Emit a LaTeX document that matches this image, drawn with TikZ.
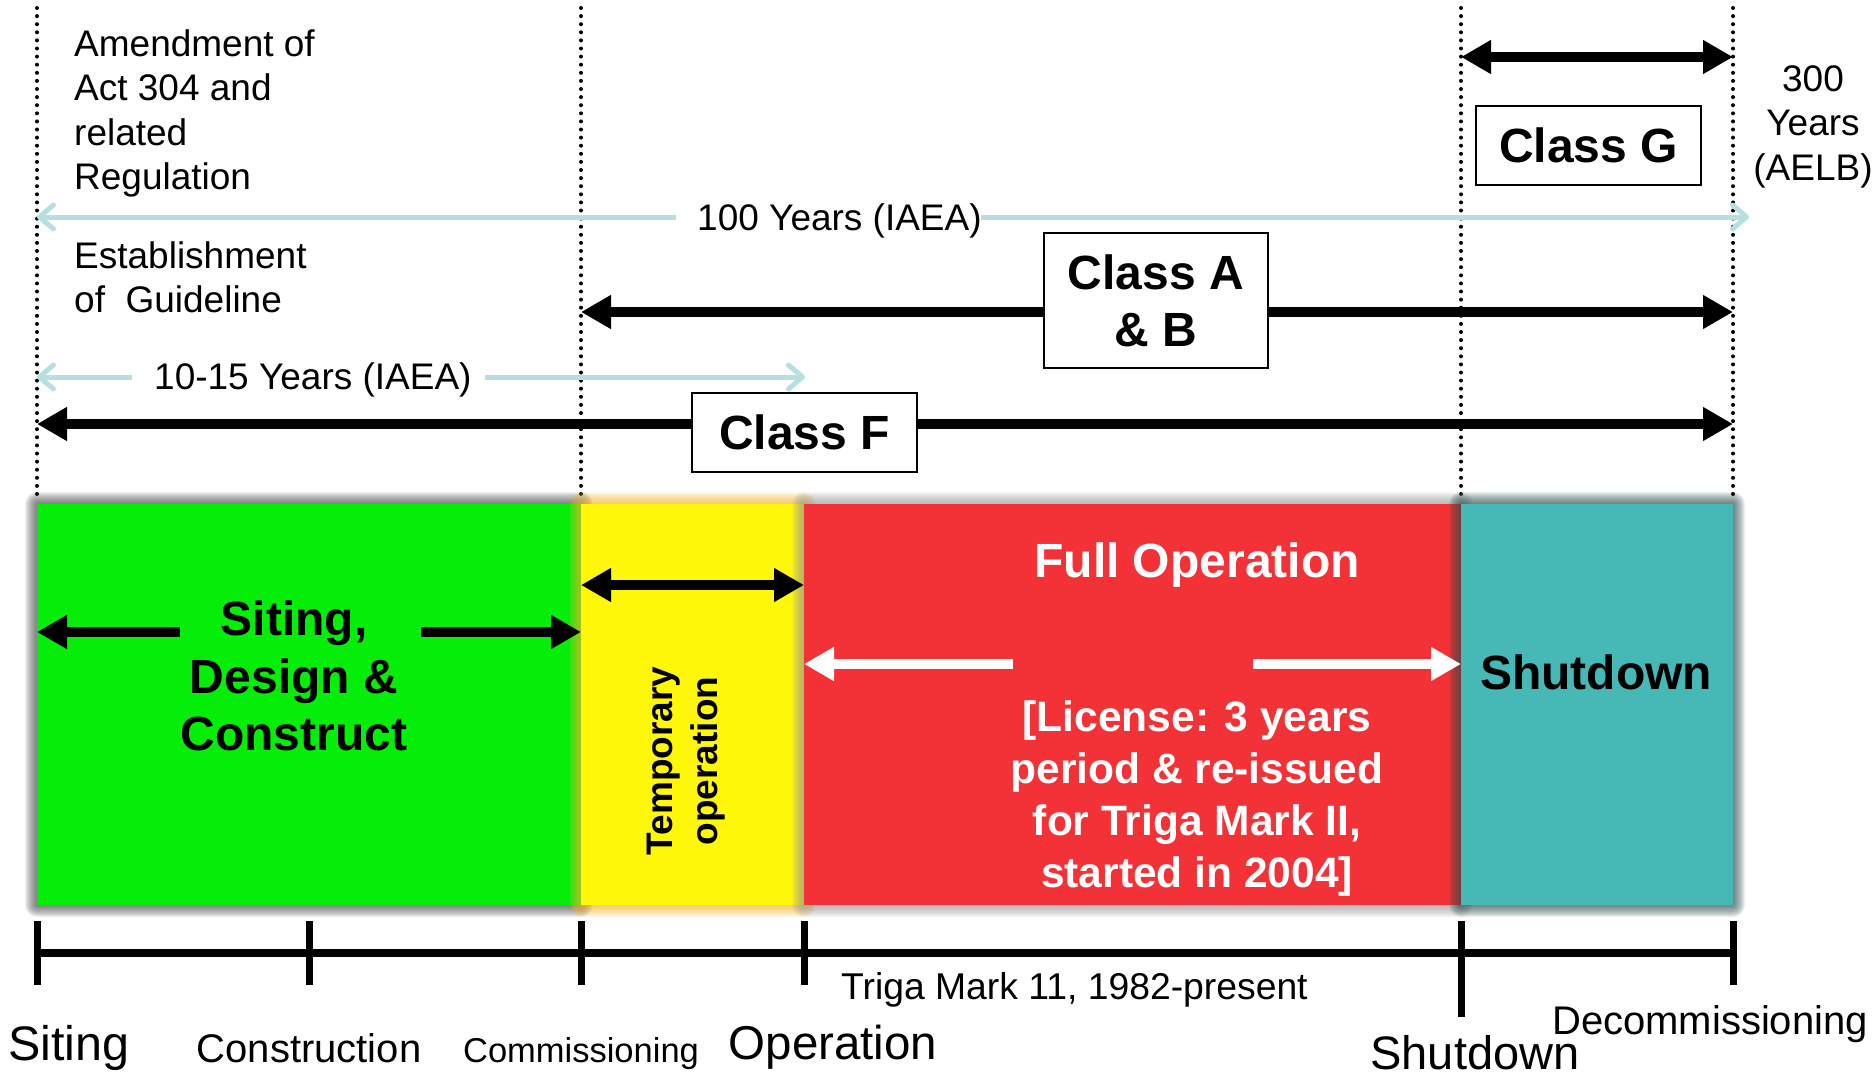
\documentclass[tikz,border=0pt]{standalone}
\usepackage{fontspec}
\setmainfont{Liberation Sans}
\usetikzlibrary{arrows.meta}

\definecolor{sitegreen}{HTML}{05EE0A}
\definecolor{tempyellow}{HTML}{FFF70A}
\definecolor{opred}{HTML}{F23236}
\definecolor{shutteal}{HTML}{46B8B6}
\definecolor{iaeablue}{HTML}{B7DFE2}
\definecolor{greenshade}{HTML}{4A4A4A}
\definecolor{yellowshade}{HTML}{F2B52A}
\definecolor{redshade}{HTML}{9A9A9A}
\definecolor{tealshade}{HTML}{2E4E4E}

% soft shadow behind a phase block: colour, x1, y1, x2, y2
\newcommand{\softshadow}[5]{%
  \foreach \k in {1,...,12}{%
    \fill[#1, opacity=0.085, rounded corners=\k pt]
      (#2-\k, #3-\k) rectangle (#4+\k, #5+\k);
  }}

\tikzset{
  guide/.style={line width=4pt, dash pattern=on 0pt off 8.1pt, line cap=round},
  bar/.style={line width=10pt},
  iaea/.style={draw=iaeablue, line width=5pt,
    -{Straight Barb[length=14pt,width=24pt,round]}},
  lbl/.style={inner sep=0pt, font=\fontsize{37}{44.5}\selectfont},
  big/.style={inner sep=0pt, font=\fontsize{48}{57.5}\selectfont\bfseries},
  classbox/.style={draw, line width=2.5pt, fill=white, inner sep=0pt,
    align=center, font=\fontsize{48}{57}\selectfont\bfseries},
  temp/.style={inner sep=0pt, font=\fontsize{37}{45}\selectfont\bfseries},
  lic/.style={inner sep=0pt, text=white, font=\fontsize{42.5}{52}\selectfont\bfseries},
  tick/.style={line width=7pt},
}

\begin{document}
\begin{tikzpicture}[x=1pt, y=-1pt, >={Triangle[length=30pt,width=32pt]}]
\useasboundingbox (0,0) rectangle (1876,1077);

% phase boundaries
\foreach \x in {37,581,1461,1733} \draw[guide] (\x,8) -- (\x,497);

% phase band
\softshadow{greenshade}{37}{504}{581}{905}
\fill[sitegreen] (37,504) rectangle (581,905);
\softshadow{yellowshade}{581}{504}{804}{905}
\fill[tempyellow] (581,504) rectangle (804,905);
\softshadow{redshade}{804}{504}{1461}{905}
\fill[opred] (804,504) rectangle (1461,905);
\softshadow{tealshade}{1461}{504}{1733}{905}
\fill[shutteal] (1461,504) rectangle (1733,905);

% regulatory notes
\node[lbl, anchor=north west, align=left] (amend) at (74,29)
  {Amendment of\\Act 304 and\\related\\Regulation};
\node[lbl, anchor=north west, align=left] (guideline) at (74,241)
  {Establishment\\of~ Guideline};
\node[lbl, anchor=north, align=center] (aelb) at (1813,65)
  {300\\Years\\(AELB)};

% IAEA spans
\node[lbl, anchor=base west] (iaea100) at (697,230) {100 Years (IAEA)};
\coordinate (h100L) at (37,217);
\coordinate (h100a) at (676,217);
\coordinate (h100b) at (981,217);
\coordinate (h100R) at (1749,217);
\draw[iaea] (h100a) -- (h100L);
\draw[iaea] (h100b) -- (h100R);

\node[lbl, anchor=base west] (iaea1015) at (154,389) {10-15 Years (IAEA)};
\coordinate (h15L) at (37,377);
\coordinate (h15a) at (132,377);
\coordinate (h15b) at (485,377);
\coordinate (h15R) at (805,377);
\draw[iaea] (h15a) -- (h15L);
\draw[iaea] (h15b) -- (h15R);

% licence classes
\coordinate (gL) at (1461,57);
\coordinate (gR) at (1733,57);
\draw[bar, <->] (gL) -- (gR);
\node[classbox, minimum width=225pt, minimum height=79pt] (classG) at (1588.5,145.5) {Class G};

\coordinate (abL) at (581,312);
\coordinate (abR) at (1733,312);
\draw[bar, <->] (abL) -- (abR);
\node[classbox, minimum width=224pt, minimum height=135pt] (classAB) at (1156,300.5) {Class A\\\& B};

\coordinate (fL) at (37,424);
\coordinate (fR) at (1733,424);
\draw[bar, <->] (fL) -- (fR);
\node[classbox, minimum width=225pt, minimum height=79pt] (classF) at (804.5,432.5) {Class F};

% siting, design and construction
\node[big, anchor=north, align=center] (siting) at (294,601) {Siting,\\Design \&\\Construct};
\coordinate (sA) at (180,632);
\coordinate (sL) at (37,632);
\coordinate (sB) at (421,632);
\coordinate (sR) at (581,632);
\draw[bar, ->] (sA) -- (sL);
\draw[bar, ->] (sB) -- (sR);

% temporary operation
\coordinate (tL) at (581,585);
\coordinate (tR) at (804,585);
\draw[bar, <->] (tL) -- (tR);
\node[temp, rotate=90, align=center] (temporary) at (686,761) {Temporary\\operation};

% full operation
\node[big, text=white, anchor=base] (fullop) at (1197,577) {Full Operation};
\coordinate (oA) at (1013,664);
\coordinate (oL) at (804,664);
\coordinate (oB) at (1253,664);
\coordinate (oR) at (1461,664);
\draw[bar, white, ->] (oA) -- (oL);
\draw[bar, white, ->] (oB) -- (oR);
\node[lic, anchor=north, align=center] (license) at (1197,700)
  {[License: 3 years\\period \& re-issued\\for Triga Mark II,\\started in 2004]};

% shutdown
\node[big, anchor=base] (shutdown) at (1596,689) {Shutdown};

% time line
\coordinate (t0) at (37,953);
\coordinate (t5) at (1733,953);
\draw[line width=8pt] (t0) -- (t5);
\foreach \x in {37,309,581,804,1733} \draw[tick] (\x,921) -- (\x,985);
\draw[tick] (1461,921) -- (1461,1017);

\node[inner sep=0pt, anchor=base, font=\fontsize{48.5}{56}\selectfont] (mSiting) at (69,1060) {Siting};
\node[inner sep=0pt, anchor=base, font=\fontsize{40}{48}\selectfont] (mConstr) at (309,1062) {Construction};
\node[inner sep=0pt, anchor=base, font=\fontsize{34.5}{42}\selectfont] (mComm) at (581,1062) {Commissioning};
\node[inner sep=0pt, anchor=base, font=\fontsize{47.5}{56}\selectfont] (mOper) at (833,1059) {Operation};
\node[inner sep=0pt, anchor=base west, font=\fontsize{37.3}{44}\selectfont] (mTriga) at (841,999) {Triga Mark 11, 1982-present};
\node[inner sep=0pt, anchor=base, font=\fontsize{47}{56}\selectfont] (mShut) at (1475,1069) {Shutdown};
\node[inner sep=0pt, anchor=base, font=\fontsize{40}{48}\selectfont] (mDecom) at (1710,1034) {Decommissioning};
\end{tikzpicture}
\end{document}
